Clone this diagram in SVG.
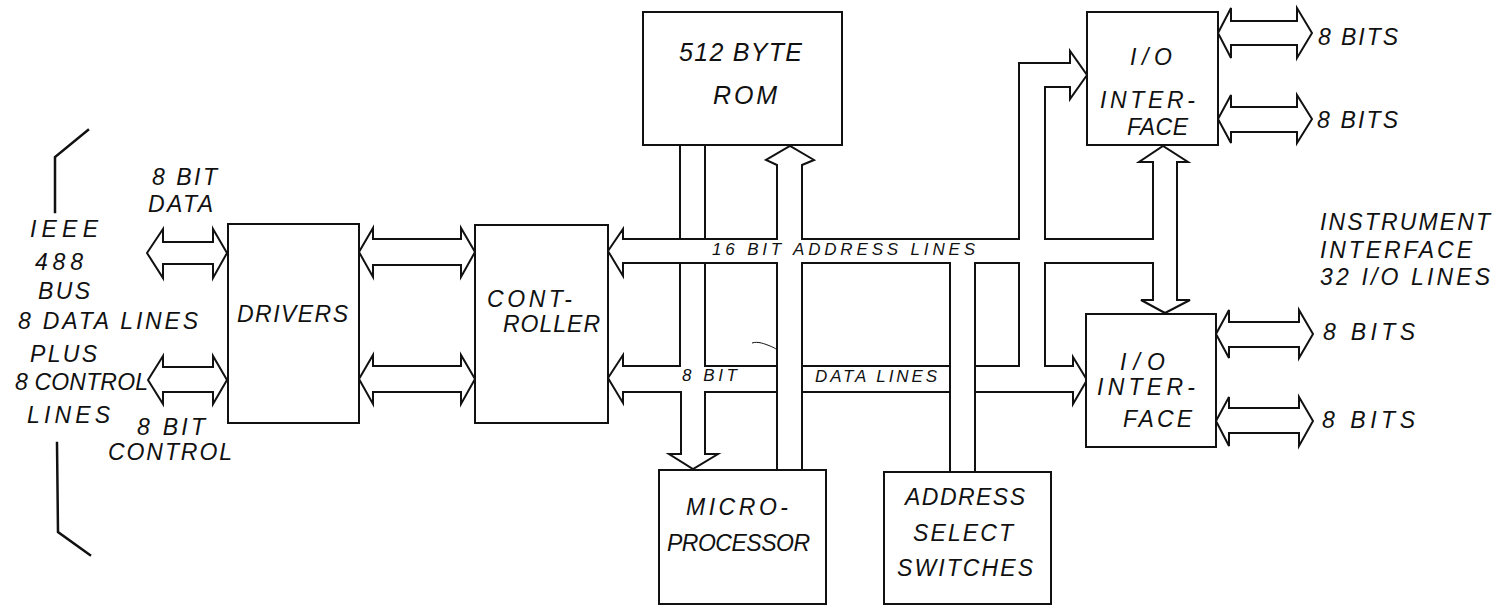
<svg xmlns="http://www.w3.org/2000/svg" width="1511" height="608" viewBox="0 0 1511 608">
<style>
.box{fill:#fff;stroke:#111;stroke-width:2}
.ln{fill:none;stroke:#111;stroke-width:2;stroke-linejoin:miter;stroke-linecap:square}
.arw{fill:#fff;stroke:#111;stroke-width:2;stroke-linejoin:miter}
.t{font-family:"Liberation Sans",Arial,sans-serif;font-style:italic;fill:#111;font-size:23px}
.s{font-size:17px}
.b{font-size:25px}
</style>
<rect width="1511" height="608" fill="#fff"/>
<g id="ieee-bus">
<polyline class="ln" points="88,130 55,157 55,212" style="stroke-width:2.5"/>
<polyline class="ln" points="57,443 58,532 90,555" style="stroke-width:2.5"/>
<text class="t" x="30" y="237" textLength="68" lengthAdjust="spacing">IEEE</text>
<text class="t" x="35" y="270" textLength="48" lengthAdjust="spacing">488</text>
<text class="t" x="38" y="299" textLength="52" lengthAdjust="spacing">BUS</text>
<text class="t" x="18" y="329" textLength="180" lengthAdjust="spacing">8 DATA LINES</text>
<text class="t" x="30" y="362" textLength="67" lengthAdjust="spacing">PLUS</text>
<text class="t" x="15" y="390" textLength="133" lengthAdjust="spacing">8 CONTROL</text>
<text class="t" x="27" y="423" textLength="83" lengthAdjust="spacing">LINES</text>
</g>
<g id="connectors">
<path class="arw" d="M147,253 L163,229 V242 H213 V229 L227,253 L213,278 V264 H163 V278 Z"/>
<path class="arw" d="M148,380 L163,356 V367 H213 V356 L227,380 L213,404 V392 H163 V404 Z"/>
<path class="arw" d="M359,252 L373,228 V239 H461 V228 L475,252 L461,277 V265 H373 V277 Z"/>
<path class="arw" d="M359,379 L373,355 V366 H461 V355 L475,379 L461,404 V392 H373 V404 Z"/>
<path class="ln" d="M623,239 H777 M802,239 H1019 M1045,239 H1153 M623,263 H777 M802,263 H950 M975,263 H1019 M1045,263 H1153 M623,239 V229 L608,251 L623,276 V263"/>
<path class="ln" d="M680,145 V239 M705,145 V239 M680,263 V366 M705,263 V366"/>
<path class="ln" d="M623,366 H680 M705,366 H777 M802,366 H950 M975,366 H1019 M623,392 H681 M705,392 H777 M802,392 H950 M975,392 H1073 M623,366 V355 L608,378 L623,403 V392"/>
<path class="ln" d="M681,392 V454 H669 L693,469 L718,454 H705 V392"/>
<path class="ln" d="M777,470 V263 M802,470 V263 M777,239 V165 L766,160 L790,146 L814,160 L802,165 V239"/>
<path class="ln" d="M950,263 V472 M975,263 V472"/>
<path class="ln" d="M1019,239 V63 H1070 V51 L1087,75 L1070,99 V87 H1045 V239"/>
<path class="ln" d="M1019,263 V366 M1045,263 V366 H1073 V357 L1087,380 L1073,404 V392"/>
<path class="ln" d="M1153,239 V162 H1139 L1163,146 L1188,162 H1177 V300 H1190 L1165,313 L1141,300 H1153 V263"/>
<path class="arw" d="M1218,33 L1231,8 V21 H1297 V8 L1312,33 L1297,58 V45 H1231 V58 Z"/>
<path class="arw" d="M1218,119 L1231,95 V107 H1297 V95 L1312,119 L1297,143 V132 H1231 V143 Z"/>
<path class="arw" d="M1216,334 L1229,310 V322 H1299 V310 L1313,334 L1299,358 V347 H1229 V358 Z"/>
<path class="arw" d="M1216,421 L1229,397 V408 H1299 V397 L1313,421 L1299,446 V433 H1229 V446 Z"/>
<path d="M752,343 C758,341 765,344 770,346 S776,349 777,350" fill="none" stroke="#111" stroke-width="1"/>
<text class="t" x="152" y="185" textLength="65" lengthAdjust="spacing">8 BIT</text>
<text class="t" x="148" y="212" textLength="65" lengthAdjust="spacing">DATA</text>
<text class="t" x="137" y="435" textLength="68" lengthAdjust="spacing">8 BIT</text>
<text class="t" x="108" y="460" textLength="124" lengthAdjust="spacing">CONTROL</text>
<text class="t s" x="712" y="255" textLength="263" lengthAdjust="spacing">16 BIT ADDRESS LINES</text>
<text class="t s" x="682" y="381" textLength="55" lengthAdjust="spacing">8 BIT</text>
<text class="t s" x="815" y="382" textLength="122" lengthAdjust="spacing">DATA LINES</text>
<text class="t" x="1318" y="45" textLength="80" lengthAdjust="spacing">8 BITS</text>
<text class="t" x="1317" y="128" textLength="81" lengthAdjust="spacing">8 BITS</text>
<text class="t" x="1323" y="340" textLength="92" lengthAdjust="spacing">8 BITS</text>
<text class="t" x="1322" y="428" textLength="93" lengthAdjust="spacing">8 BITS</text>
<text class="t" x="1320" y="230" textLength="170" lengthAdjust="spacing">INSTRUMENT</text>
<text class="t" x="1320" y="258" textLength="152" lengthAdjust="spacing">INTERFACE</text>
<text class="t" x="1320" y="285" textLength="170" lengthAdjust="spacing">32 I/O LINES</text>
</g>
<g id="drivers">
<rect class="box" x="228" y="224" width="131" height="199"/>
<text class="t" x="237" y="322" textLength="111" lengthAdjust="spacing">DRIVERS</text>
</g>
<g id="controller">
<rect class="box" x="475" y="225" width="133" height="198"/>
<text class="t" x="487" y="307" textLength="85" lengthAdjust="spacing">CONT-</text>
<text class="t" x="503" y="332" textLength="97" lengthAdjust="spacing">ROLLER</text>
</g>
<g id="rom">
<rect class="box" x="643" y="12" width="199" height="133"/>
<text class="t b" x="679" y="61" textLength="123" lengthAdjust="spacing">512 BYTE</text>
<text class="t b" x="713" y="104" textLength="64" lengthAdjust="spacing">ROM</text>
</g>
<g id="microprocessor">
<rect class="box" x="659" y="470" width="167" height="134"/>
<text class="t" x="686" y="515" textLength="102" lengthAdjust="spacing">MICRO-</text>
<text class="t" x="667" y="551" textLength="143" lengthAdjust="spacing">PROCESSOR</text>
</g>
<g id="address-select">
<rect class="box" x="884" y="472" width="167" height="132"/>
<text class="t" x="905" y="505" textLength="120" lengthAdjust="spacing">ADDRESS</text>
<text class="t" x="913" y="541" textLength="100" lengthAdjust="spacing">SELECT</text>
<text class="t" x="897" y="576" textLength="136" lengthAdjust="spacing">SWITCHES</text>
</g>
<g id="io-upper">
<rect class="box" x="1087" y="12" width="131" height="133"/>
<text class="t" x="1130" y="65" textLength="42" lengthAdjust="spacing">I/O</text>
<text class="t" x="1100" y="108" textLength="95" lengthAdjust="spacing">INTER-</text>
<text class="t" x="1127" y="135" textLength="61" lengthAdjust="spacing">FACE</text>
</g>
<g id="io-lower">
<rect class="box" x="1086" y="314" width="130" height="133"/>
<text class="t" x="1120" y="370" textLength="45" lengthAdjust="spacing">I/O</text>
<text class="t" x="1097" y="395" textLength="98" lengthAdjust="spacing">INTER-</text>
<text class="t" x="1123" y="427" textLength="69" lengthAdjust="spacing">FACE</text>
</g>
</svg>
